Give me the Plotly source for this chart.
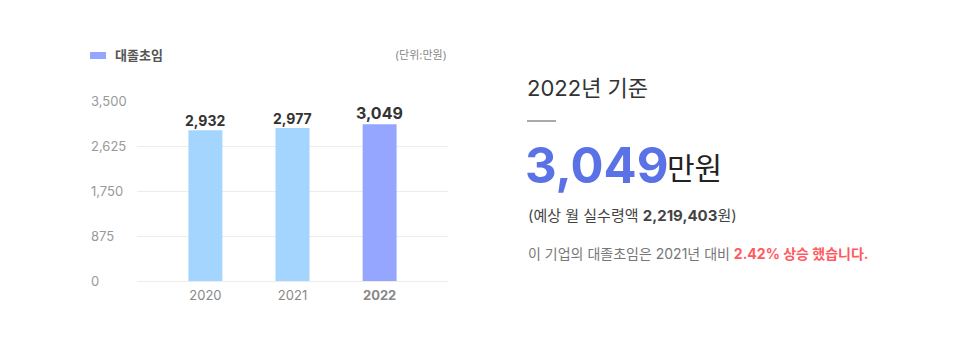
import plotly.graph_objects as go

years = ["2020", "2021", "2022"]
salary = [2932, 2977, 3049]
bar_colors = ["#a3d5ff", "#a3d5ff", "#94a6ff"]
label_sizes = [14, 14, 16]
y_ticks = [0, 875, 1750, 2625, 3500]
x_ticktext = ["2020", "2021", "<b>2022</b>"]

W, H = 956, 363
FONT = "Inter, Noto Sans CJK KR"

def px(x):
    return x / W

def py(y):
    return 1 - y / H

fig = go.Figure()
fig.add_trace(go.Bar(
    x=years, y=salary, width=0.39,
    marker=dict(color=bar_colors, line=dict(width=0)),
    hoverinfo="skip",
))

annotations = []
# category axis: annotation x given as category index of each year
for i, (v, s) in enumerate(zip(salary, label_sizes)):
    annotations.append(dict(
        x=i, y=v, xref="x", yref="y", text=f"<b>{v:,}</b>",
        showarrow=False, xanchor="center", yanchor="bottom", yshift=-1,
        font=dict(size=s, color="#333333", family=FONT),
    ))
for t in y_ticks:
    annotations.append(dict(
        x=px(89), xref="paper", y=t, yref="y", text=f"{t:,}",
        showarrow=False, xanchor="left", yanchor="middle",
        font=dict(size=13, color="#999999", family=FONT),
    ))

# legend and unit
annotations.append(dict(x=px(113), y=py(55), xref="paper", yref="paper", text="<b>대졸초임</b>",
                        showarrow=False, xanchor="left", yanchor="middle",
                        font=dict(size=13, color="#555555", family=FONT)))
annotations.append(dict(x=px(449), y=py(55), xref="paper", yref="paper", text="(단위:만원)",
                        showarrow=False, xanchor="right", yanchor="middle",
                        font=dict(size=11, color="#888888", family=FONT)))

# right panel
annotations.append(dict(x=px(525), y=py(88), xref="paper", yref="paper", text="2022년 기준",
                        showarrow=False, xanchor="left", yanchor="middle",
                        font=dict(size=22, color="#333333", family=FONT)))
annotations.append(dict(x=px(523), y=py(165), xref="paper", yref="paper", text=f"<b>{salary[-1]:,}</b>",
                        showarrow=False, xanchor="left", yanchor="middle",
                        font=dict(size=49, color="#5a72e6", family=FONT)))
annotations.append(dict(x=px(665), y=py(168), xref="paper", yref="paper", text="만원",
                        showarrow=False, xanchor="left", yanchor="middle",
                        font=dict(size=30, color="#222222", family=FONT)))
annotations.append(dict(x=px(526), y=py(215), xref="paper", yref="paper",
                        text="(예상 월 실수령액 <b>2,219,403</b>원)",
                        showarrow=False, xanchor="left", yanchor="middle",
                        font=dict(size=15, color="#444444", family=FONT)))
annotations.append(dict(x=px(526), y=py(253), xref="paper", yref="paper",
                        text="이 기업의 대졸초임은 2021년 대비 <span style='color:#ff5a5f'><b>2.42% 상승 했습니다.</b></span>",
                        showarrow=False, xanchor="left", yanchor="middle",
                        font=dict(size=14, color="#777777", family=FONT)))

shapes = [
    dict(type="rect", xref="paper", yref="paper", x0=px(90), x1=px(106), y0=py(59), y1=py(52),
         fillcolor="#94a6ff", line=dict(width=0)),
    dict(type="line", xref="paper", yref="paper", x0=px(527), x1=px(556), y0=py(121), y1=py(121),
         line=dict(color="#555555", width=1)),
]

fig.update_layout(
    width=W, height=H,
    margin=dict(l=0, r=0, t=0, b=0),
    paper_bgcolor="white", plot_bgcolor="white",
    showlegend=False,
    font=dict(family=FONT),
    annotations=annotations,
    shapes=shapes,
    xaxis=dict(type="category", domain=[px(137), px(448)], range=[-0.785, 2.785],
               tickmode="array", tickvals=years, ticktext=x_ticktext,
               tickfont=dict(size=13, color="#888888", family=FONT),
               ticklabelstandoff=5,
               showgrid=False, showline=False, zeroline=False, ticks="", ticklen=0),
    yaxis=dict(domain=[py(281), py(101)], range=[0, 3500],
               tickmode="array", tickvals=y_ticks, showticklabels=False,
               gridcolor="#ececec", gridwidth=1, zeroline=True, zerolinecolor="#ececec",
               zerolinewidth=1, showline=False),
    bargap=0.6,
)

fig.write_html("out.html")
